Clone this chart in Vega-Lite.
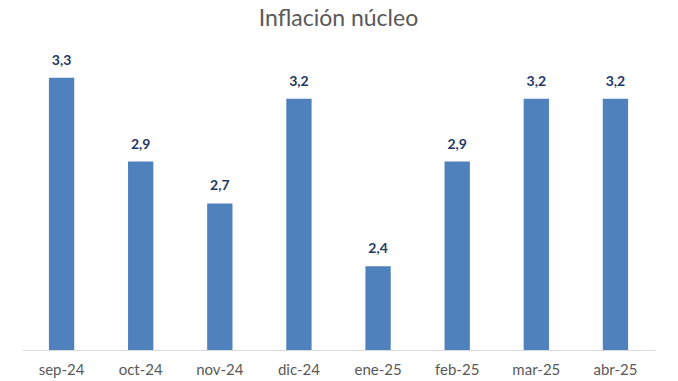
{
  "$schema": "https://vega.github.io/schema/vega-lite/v6.json",
  "width": 633,
  "height": 314,
  "autosize": {"type": "none"},
  "padding": {"left": 22, "top": 36, "right": 23, "bottom": 31},
  "background": "white",
  "config": {
    "view": {"stroke": null},
    "font": "Lato",
    "locale": {"number": {"decimal": ",", "thousands": ".", "grouping": [3], "currency": ["", " €"]}}
  },
  "title": {
    "text": "Inflación núcleo",
    "fontSize": 23,
    "font": "Lato",
    "fontWeight": "normal",
    "color": "#595959",
    "anchor": "middle",
    "offset": 5
  },
  "data": {
    "values": [
      {"mes": "sep-24", "valor": 3.3},
      {"mes": "oct-24", "valor": 2.9},
      {"mes": "nov-24", "valor": 2.7},
      {"mes": "dic-24", "valor": 3.2},
      {"mes": "ene-25", "valor": 2.4},
      {"mes": "feb-25", "valor": 2.9},
      {"mes": "mar-25", "valor": 3.2},
      {"mes": "abr-25", "valor": 3.2}
    ]
  },
  "encoding": {
    "x": {
      "field": "mes",
      "type": "nominal",
      "sort": null,
      "scale": {"paddingInner": 0.68, "paddingOuter": 0.34},
      "axis": {
        "title": null,
        "labelAngle": 0,
        "ticks": false,
        "domainColor": "#d9d9d9",
        "domainWidth": 1,
        "labelColor": "#595959",
        "labelFontSize": 15,
        "labelFont": "Lato",
        "labelPadding": 12
      }
    },
    "y": {
      "field": "valor",
      "type": "quantitative",
      "scale": {"domain": [2, 3.5], "zero": false, "nice": false},
      "axis": null
    }
  },
  "layer": [
    {"mark": {"type": "bar", "color": "#4f81bd", "clip": true}},
    {
      "mark": {"type": "text", "baseline": "bottom", "dy": -10, "fontWeight": "bold", "fontSize": 14, "color": "#1f3864", "font": "Lato"},
      "encoding": {"text": {"field": "valor", "type": "quantitative", "format": ".1f"}}
    }
  ]
}
